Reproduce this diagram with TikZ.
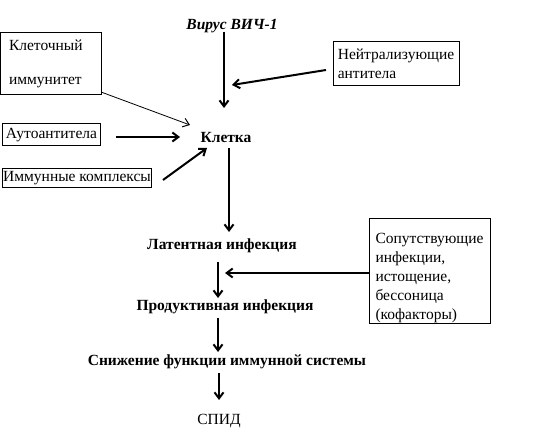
\documentclass[tikz,border=0pt]{standalone}
\usepackage{fontspec}
\setmainfont{Liberation Serif}
\usetikzlibrary{arrows.meta,calc}
\begin{document}
\begin{tikzpicture}[x=1bp,y=-1bp,
  every node/.style={font=\fontsize{15.5bp}{19bp}\selectfont, inner sep=0pt},
  box/.style={draw, line width=1bp, align=left},
  lbl/.style={font=\fontsize{15.5bp}{19bp}\selectfont\bfseries},
  arr/.style={line width=2bp, -{Straight Barb[length=6bp,width=9bp,line width=2bp]}},
  tarr/.style={line width=0.8bp, -{Straight Barb[length=6bp,width=9bp,line width=1bp]}}]
\useasboundingbox (0,0) rectangle (548,440);
\fill[white] (0,0) rectangle (548,440);
% nodes
\node (virus) at (232,26) {\bfseries\itshape Вирус ВИЧ-1};
\node[lbl] (kletka) at (226,138) {Клетка};
\node[lbl] (lat) at (222,246) {Латентная инфекция};
\node[lbl] (prod) at (225,307) {Продуктивная инфекция};
\node[lbl] (snz) at (227,362) {Снижение функции иммунной системы};
\node (spid) at (219,421) {СПИД};
\node[box, minimum width=101bp, minimum height=62bp, inner xsep=9bp, text width=83bp] (kl) at (50.5,64) {Клеточный\\[15bp]иммунитет};
\node[box, minimum width=126bp, minimum height=44bp] (neut) at (396,64) {Нейтрализующие\\антитела};
\node[box, minimum width=97bp, minimum height=22bp] (auto) at (51.5,135) {Аутоантитела};
\node[box, minimum width=148bp, minimum height=19bp] (imm) at (77,178.5) {Иммунные комплексы};
\node[box, minimum width=121bp, minimum height=104bp] (cof) at (429.5,271) {\rule{0pt}{25bp}Сопутствующие\\инфекции,\\истощение,\\бессоница\\(кофакторы)};
\draw[line width=2.5bp] (kl.north west) -- (kl.south west);
% connectors
\draw[arr] ($(virus)+(-8,6)$) -- ($(kletka)+(-2,-30)$);
\draw[arr] ($(neut)+(-70,6)$) -- ($(kletka)+(6,-53)$);
\draw[tarr] ($(kl)+(50.5,28)$) -- ($(kletka)+(-36,-13)$);
\draw[arr] ($(auto)+(64.5,2)$) -- ($(kletka)+(-46,-1)$);
\draw[arr] ($(imm)+(86,1.5)$) -- ($(kletka)+(-19,10)$);
\draw[arr] ($(kletka)+(3,10)$) -- ($(lat)+(7,-14)$);
\draw[arr] ($(lat)+(-4,16)$) -- ($(prod)+(-7,-9)$);
\draw[arr] ($(cof.west)+(0,2)$) -- ($(prod)+(0,-34)$);
\draw[arr] ($(prod)+(-7,11)$) -- ($(snz)+(-9,-10)$);
\draw[arr] ($(snz)+(-8,11)$) -- ($(spid)+(0,-21)$);
\end{tikzpicture}
\end{document}
